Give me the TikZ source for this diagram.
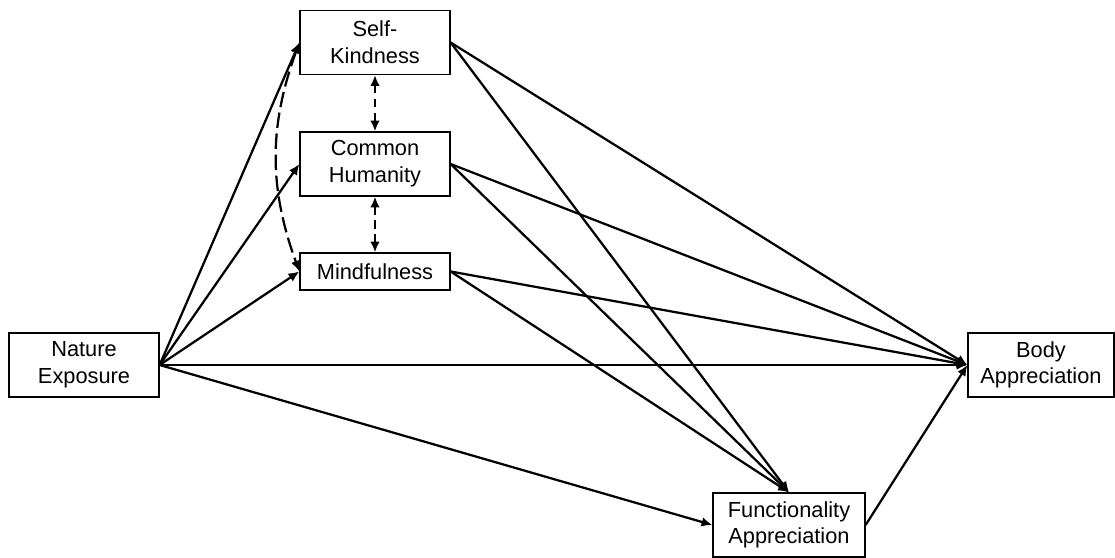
\documentclass[tikz,border=0pt]{standalone}
\usepackage{fontspec}
\setmainfont{Liberation Sans}
\usepackage{tikz}
\usetikzlibrary{arrows.meta}

\begin{document}
\begin{tikzpicture}[main_node/.style={rectangle,draw,line width=0.9pt,minimum width=3.75cm,minimum height=1.6cm,inner sep=0pt,align=center,font=\fontsize{15.5}{19}\selectfont},
    path_line/.style={line width=1.6pt,-{Latex[length=0.27cm,width=0.24cm]}},
    cov_line/.style={line width=1.6pt,{Latex[length=0.27cm,width=0.24cm]}-{Latex[length=0.27cm,width=0.24cm]},dash pattern=on 6pt off 4pt}]
    \useasboundingbox (0,0) rectangle (27.875,-13.95);

    \node[main_node] (1) at (2.1, -9.125) {Nature\\Exposure};
    \node[main_node] (2) at (9.375, -1.0625) {Self-\\Kindness};
    \node[main_node] (3) at (9.375, -4.1) {Common\\Humanity};
    \node[main_node, minimum height=0.925cm] (4) at (9.375, -6.7875) {Mindfulness};
    \node[main_node, minimum width=3.65cm] (5) at (26.025, -9.125) {Body\\Appreciation};
    \node[main_node, minimum width=3.8cm] (6) at (19.725, -13.125) {Functionality\\Appreciation};

    \draw[path_line] (1.east) -- (2.west);
    \draw[path_line] (1.east) -- (3.west);
    \draw[path_line] (1.east) -- (4.west);
    \draw[path_line] (1.east) -- (5.west);
    \draw[path_line] (1.east) -- (6.west);

    \draw[path_line] (2.east) -- (5.west);
    \draw[path_line] (3.east) -- (5.west);
    \draw[path_line] (4.east) -- (5.west);
    \draw[path_line] (2.east) -- (6.north);
    \draw[path_line] (3.east) -- (6.north);
    \draw[path_line] (4.east) -- (6.north);
    \draw[path_line] (6.east) -- (5.west);

    \draw[cov_line] (2.south) -- (3.north);
    \draw[cov_line] (3.south) -- (4.north);
    \draw[cov_line, dash pattern=on 11pt off 4pt] (2.west) to[bend right=20] (4.west);

\end{tikzpicture}
\end{document}
